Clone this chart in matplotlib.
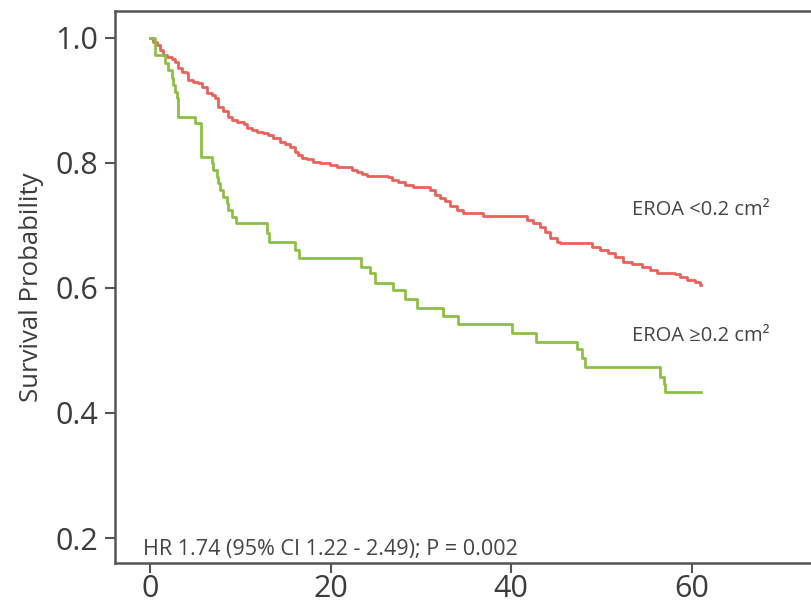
import matplotlib
matplotlib.use("Agg")
import matplotlib.pyplot as plt

plt.rcParams['font.family'] = ['Open Sans', 'DejaVu Sans']

# Kaplan-Meier steps (months, survival)
low_t = [0, 0.37, 0.74, 1.11, 1.47, 1.85, 2.40, 2.77, 3.14, 3.51, 4.07, 4.24, 4.80,
         5.35, 5.73, 6.28, 6.84, 7.20, 7.57, 8.12, 8.68, 9.05, 9.61, 10.42, 10.71,
         11.27, 11.82, 12.55, 13.11, 13.66, 14.40, 14.96, 15.51, 16.07, 16.43, 16.81,
         17.36, 18.09, 18.84, 19.94, 20.69, 22.35, 22.90, 23.46, 24.01, 26.37, 26.78,
         27.51, 28.25, 29.14, 31.02, 31.58, 32.13, 32.69, 33.24, 33.98, 34.71, 36.93,
         41.74, 42.47, 43.21, 43.77, 44.32, 45.06, 45.43, 48.94, 49.86, 50.78, 51.52,
         52.44, 53.37, 54.48, 55.40, 56.14, 58.17, 58.73, 59.47, 60.39, 60.94, 61.1]
low_s = [1.0, 0.994, 0.989, 0.981, 0.973, 0.970, 0.966, 0.962, 0.952, 0.946, 0.944,
         0.933, 0.930, 0.928, 0.921, 0.912, 0.909, 0.904, 0.890, 0.883, 0.874, 0.869,
         0.866, 0.862, 0.856, 0.853, 0.850, 0.848, 0.845, 0.840, 0.834, 0.830, 0.825,
         0.818, 0.813, 0.808, 0.806, 0.802, 0.800, 0.797, 0.794, 0.789, 0.786, 0.782,
         0.779, 0.778, 0.773, 0.770, 0.765, 0.762, 0.757, 0.749, 0.744, 0.739, 0.731,
         0.724, 0.720, 0.715, 0.709, 0.704, 0.698, 0.689, 0.680, 0.674, 0.672, 0.666,
         0.661, 0.656, 0.650, 0.642, 0.638, 0.633, 0.629, 0.624, 0.622, 0.617, 0.613,
         0.610, 0.605, 0.605]

high_t = [0, 0.55, 1.66, 2.03, 2.40, 2.58, 2.77, 2.95, 3.14, 5.0, 5.6, 6.87, 6.98,
          7.42, 7.53, 7.76, 8.09, 8.53, 8.64, 9.09, 9.53, 12.96, 13.2, 16.1, 16.5,
          23.4, 24.4, 24.9, 26.9, 28.25, 29.6, 32.5, 34.1, 40.1, 42.8, 47.3, 47.9,
          48.2, 56.5, 56.9, 57.1, 61.1]
high_s = [1.0, 0.972, 0.960, 0.949, 0.935, 0.924, 0.914, 0.903, 0.874, 0.864, 0.810,
          0.800, 0.789, 0.778, 0.768, 0.757, 0.746, 0.736, 0.725, 0.714, 0.704, 0.688,
          0.674, 0.661, 0.648, 0.634, 0.624, 0.608, 0.596, 0.582, 0.568, 0.555, 0.542,
          0.528, 0.514, 0.502, 0.488, 0.474, 0.458, 0.447, 0.434, 0.434]

x_ticks = [0, 20, 40, 60]
y_ticks = [0.2, 0.4, 0.6, 0.8, 1.0]

fig = plt.figure(figsize=(8.12, 6.09), dpi=100)
ax = fig.add_axes([0.1416, 0.0755, 0.8584, 0.9065])

ax.step(low_t, low_s, where="post", color="#e9625b", lw=2.0)
ax.step(high_t, high_s, where="post", color="#8cc044", lw=2.0)

ax.set_xlim(-3.88, 73.35)
ax.set_ylim(0.16, 1.043)
ax.set_xticks(x_ticks)
ax.set_yticks(y_ticks)
ax.set_yticklabels([f"{v:.1f}" for v in y_ticks])

ax.spines["right"].set_visible(False)
for side in ["left", "top", "bottom"]:
    ax.spines[side].set_color("#555555")
    ax.spines[side].set_linewidth(1.8)
ax.tick_params(length=7, width=1.5, color="#555555", labelsize=22,
               labelcolor="#3c3c3c")
ax.tick_params(axis="x", pad=1)
ax.tick_params(axis="y", pad=5)

ax.set_ylabel("Survival Probability", fontsize=18.5, color="#3c3c3c", labelpad=8)

ax.text(53.4, 0.725, "EROA <0.2 cm²", fontsize=14.5, color="#444444", va="center")
ax.text(53.4, 0.523, "EROA ≥0.2 cm²", fontsize=14.5, color="#444444", va="center")
ax.text(-0.78, 0.182, "HR 1.74 (95% CI 1.22 - 2.49); P = 0.002", fontsize=15.5,
        color="#444444", va="center")

fig.savefig("out.png", dpi=100)
